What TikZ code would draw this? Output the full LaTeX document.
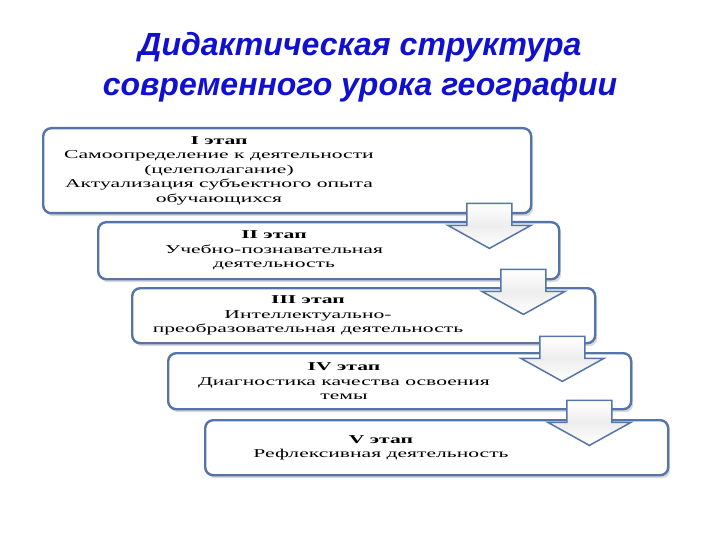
\documentclass[tikz,border=0pt]{standalone}
\usepackage{fontspec}
\setmainfont{Liberation Serif}
\newfontfamily\stagefont{Liberation Serif}[FakeStretch=1.8]
\newfontfamily\headfont{Liberation Sans}
\usetikzlibrary{positioning,shadows}
\definecolor{frame}{HTML}{5575A8}
\definecolor{headblue}{HTML}{1010D0}

\begin{document}
\begin{tikzpicture}[
    x=1pt,y=-1pt,
    stage/.style={rectangle,draw=frame,line width=2.4pt,rounded corners=8pt,fill=white,anchor=north west,inner sep=0pt,
      drop shadow={opacity=0.3,shadow xshift=2pt,shadow yshift=-3pt}},
    stagetext/.style={align=center,font=\stagefont\fontsize{12}{14.5}\selectfont,inner sep=0pt},
    headtext/.style={align=center,font=\headfont\bfseries\itshape\fontsize{32}{40}\selectfont,text=headblue},
    down/.style={draw=frame,line width=1.5pt,line join=miter,shade,top color=white,bottom color=white,middle color=black!7}
]
\useasboundingbox (0,0) rectangle (720,540);

\node[headtext] (title) at (360,67) {Дидактическая структура\\современного урока географии};

% stages
\node[stage,minimum width=488pt,minimum height=85pt] (s1) at (42,127) {};
\node[stage,minimum width=461pt,minimum height=57pt] (s2) at (97,221) {};
\node[stage,minimum width=463pt,minimum height=55pt] (s3) at (131,287) {};
\node[stage,minimum width=463pt,minimum height=56pt] (s4) at (167,352) {};
\node[stage,minimum width=463pt,minimum height=55pt] (s5) at (204,419) {};

\node[stagetext] (t1) at ([xshift=177pt]s1.west) {\textbf{I этап}\\Самоопределение к деятельности\\(целеполагание)\\Актуализация субъектного опыта\\обучающихся};
\node[stagetext] (t2) at ([xshift=177pt]s2.west) {\textbf{II этап}\\Учебно-познавательная\\деятельность};
\node[stagetext] (t3) at ([xshift=177pt]s3.west) {\textbf{III этап}\\Интеллектуально-\\преобразовательная деятельность};
\node[stagetext] (t4) at ([xshift=177pt]s4.west) {\textbf{IV этап}\\Диагностика качества освоения\\темы};
\node[stagetext] (t5) at ([xshift=177pt]s5.west) {\textbf{V этап}\\Рефлексивная деятельность};

% arrows between stages
\coordinate (a1) at ([xshift=-43pt,yshift=11pt]s1.south east);
\coordinate (a2) at ([xshift=-37pt,yshift=11pt]s2.south east);
\coordinate (a3) at ([xshift=-34pt,yshift=8pt]s3.south east);
\coordinate (a4) at ([xshift=-43pt,yshift=10pt]s4.south east);
\draw[down] (a1) ++(-22.5,0) -- ++(45,0) -- ++(0,22) -- ++(19,0) -- ++(-41.5,23) -- ++(-41.5,-23) -- ++(19,0) -- cycle;
\draw[down] (a2) ++(-22.5,0) -- ++(45,0) -- ++(0,22) -- ++(19,0) -- ++(-41.5,23) -- ++(-41.5,-23) -- ++(19,0) -- cycle;
\draw[down] (a3) ++(-22.5,0) -- ++(45,0) -- ++(0,22) -- ++(19,0) -- ++(-41.5,23) -- ++(-41.5,-23) -- ++(19,0) -- cycle;
\draw[down] (a4) ++(-22.5,0) -- ++(45,0) -- ++(0,22) -- ++(19,0) -- ++(-41.5,23) -- ++(-41.5,-23) -- ++(19,0) -- cycle;
\end{tikzpicture}
\end{document}
